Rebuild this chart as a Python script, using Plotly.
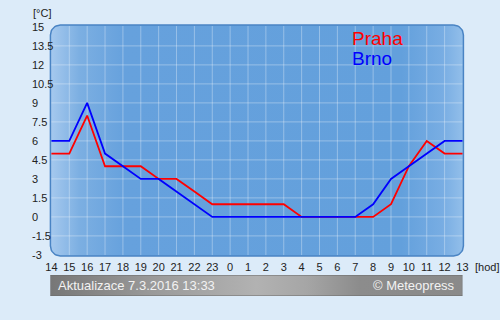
import numpy as np
import plotly.graph_objects as go

# ---------------- data ----------------
hours = ["14", "15", "16", "17", "18", "19", "20", "21", "22", "23", "0", "1",
         "2", "3", "4", "5", "6", "7", "8", "9", "10", "11", "12", "13"]
praha = [5, 5, 8, 4, 4, 4, 3, 3, 2, 1, 1, 1, 1, 1, 0, 0, 0, 0, 0, 1, 4, 6, 5, 5]
brno = [6, 6, 9, 5, 4, 3, 3, 2, 1, 0, 0, 0, 0, 0, 0, 0, 0, 0, 1, 3, 4, 5, 6, 6]
y_ticks = [15, 13.5, 12, 10.5, 9, 7.5, 6, 4.5, 3, 1.5, 0, -1.5, -3]
y_tick_text = ["15", "13.5", "12", "10.5", "9", "7.5", "6", "4.5", "3", "1.5", "0", "-1.5", "-3"]
series_names = ["Praha", "Brno"]
series_colors = ["#ff0000", "#0000ff"]
footer_left = "Aktualizace 7.3.2016 13:33"
footer_right = "© Meteopress"

# ---------------- geometry helpers (pixel layout) ----------------
W, H = 500, 320
X0PX, XSTEP = 49.0, 18.09        # pixel of first hour, px per hour
Y0PX, YSTEP = 216.9, 12.667      # pixel of value 0, px per unit

def px2x(p):
    return (p - X0PX) / XSTEP

def px2y(p):
    return (Y0PX - p) / YSTEP

DOM_L, DOM_R, DOM_T, DOM_B = 46, 468, 23, 259
x_range = [px2x(DOM_L), px2x(DOM_R)]
y_range = [px2y(DOM_B), px2y(DOM_T)]

# rounded plot box (in pixels -> data)
BL, BR, BT, BB, RAD = 48, 466, 25, 256, 10

def rounded_rect_px(l, r, t, b, rad, n=12):
    pts = []
    corners = [(r - rad, t + rad, -90, 0), (r - rad, b - rad, 0, 90),
               (l + rad, b - rad, 90, 180), (l + rad, t + rad, 180, 270)]
    for cx, cy, a0, a1 in corners:
        for a in np.linspace(np.radians(a0), np.radians(a1), n):
            pts.append((cx + rad * np.cos(a), cy + rad * np.sin(a)))
    pts.append(pts[0])
    return pts

box = rounded_rect_px(BL, BR, BT, BB, RAD)
box_x = [px2x(p[0]) for p in box]
box_y = [px2y(p[1]) for p in box]

FONT = "Liberation Sans, Arial, sans-serif"

fig = go.Figure()

# plot area background
fig.add_trace(go.Scatter(
    x=box_x, y=box_y, mode="lines", fill="toself",
    line=dict(color="#4a84c4", width=1.5),
    fillgradient=dict(type="horizontal", colorscale=[
        [0.0, "#a6c9ee"], [0.07, "#7cafe2"], [0.18, "#66a1dd"],
        [0.85, "#63a0dc"], [0.95, "#78ade3"], [1.0, "#93bfea"]]),
    hoverinfo="skip", showlegend=False))

# grid lines
gx, gy = [], []
for i in range(1, len(hours) - 1):
    gx += [i, i, None]
    gy += [px2y(BT + 1), px2y(BB - 1), None]
for v in y_ticks:
    if -3 < v < 15:
        gx += [px2x(BL + 1), px2x(BR - 1), None]
        gy += [v, v, None]
fig.add_trace(go.Scatter(x=gx, y=gy, mode="lines",
                         line=dict(color="rgba(255,255,255,0.33)", width=1),
                         hoverinfo="skip", showlegend=False))

# data lines
idx = list(range(len(hours)))
for name, vals, col in zip(series_names, [praha, brno], series_colors):
    fig.add_trace(go.Scatter(x=idx, y=vals, mode="lines", name=name,
                             line=dict(color=col, width=1.8), showlegend=False))

# footer banner on its own axes
fig.add_trace(go.Scatter(
    x=[0, 1, 1, 0, 0], y=[0, 0, 1, 1, 0], mode="lines", fill="toself",
    line=dict(color="#6a6a6a", width=1),
    fillgradient=dict(type="horizontal", colorscale=[
        [0.0, "#777777"], [0.25, "#9a9a9a"], [0.5, "#b2b2b2"],
        [0.62, "#a6a6a6"], [0.75, "#8c8c8c"], [1.0, "#8a8a8a"]]),
    xaxis="x2", yaxis="y2", hoverinfo="skip", showlegend=False))

annotations = []
# y tick labels (left aligned)
for v, t in zip(y_ticks, y_tick_text):
    annotations.append(dict(x=27.5 / W, xref="paper", y=v, yref="y", text=t,
                            showarrow=False, xanchor="left", yanchor="middle",
                            font=dict(family=FONT, size=11, color="#222")))
annotations.append(dict(x=28.5 / W, xref="paper", y=1 - 13 / H, yref="paper",
                        text="[°C]", showarrow=False, xanchor="left", yanchor="middle",
                        font=dict(family=FONT, size=11, color="#222")))
annotations.append(dict(x=476 / W, xref="paper", y=1 - 267 / H, yref="paper",
                        text="[hod]", showarrow=False, xanchor="left", yanchor="middle",
                        font=dict(family=FONT, size=11, color="#222")))
# legend-like labels
for k, (name, col) in enumerate(zip(series_names, series_colors)):
    annotations.append(dict(x=351 / W, xref="paper", y=1 - (39 + 19.5 * k) / H, yref="paper",
                            text=name, showarrow=False, xanchor="left", yanchor="middle",
                            font=dict(family=FONT, size=19, color=col)))
# footer texts
annotations.append(dict(x=54 / W, xref="paper", y=1 - 285.5 / H, yref="paper",
                        text=footer_left, showarrow=False, xanchor="left", yanchor="middle",
                        font=dict(family=FONT, size=13, color="#f2f2f2")))
annotations.append(dict(x=460 / W, xref="paper", y=1 - 285.5 / H, yref="paper",
                        text=footer_right, showarrow=False, xanchor="right", yanchor="middle",
                        font=dict(family=FONT, size=13, color="#f2f2f2")))

fig.update_layout(
    width=W, height=H,
    margin=dict(l=0, r=0, t=0, b=0),
    paper_bgcolor="#dcebf9", plot_bgcolor="rgba(0,0,0,0)",
    showlegend=False,
    xaxis=dict(domain=[DOM_L / W, DOM_R / W], range=x_range,
               tickvals=idx, ticktext=hours, showgrid=False, zeroline=False,
               showline=False, ticks="", tickfont=dict(family=FONT, size=11, color="#222"),
               fixedrange=True),
    yaxis=dict(domain=[1 - DOM_B / H, 1 - DOM_T / H], range=y_range,
               showticklabels=False, showgrid=False, zeroline=False, showline=False,
               fixedrange=True),
    xaxis2=dict(domain=[48 / W, 465 / W], range=[0, 1], visible=False,
                anchor="y2", fixedrange=True),
    yaxis2=dict(domain=[1 - 296 / H, 1 - 275 / H], range=[0, 1], visible=False,
                anchor="x2", fixedrange=True),
    annotations=annotations,
)

fig.write_html("out.html", config=dict(displayModeBar=False))
